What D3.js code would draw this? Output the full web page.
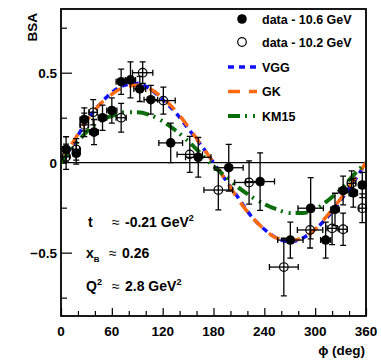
<!DOCTYPE html>
<html>
<head>
<meta charset="utf-8">
<script src="https://cdn.jsdelivr.net/npm/d3@7"></script>
<style>
  body { margin: 0; background: #fff; }
  svg text { font-family: "Liberation Sans", Arial, sans-serif; font-weight: bold; fill: #000; }
</style>
</head>
<body>
<div id="chart"></div>
<script>
// data - 10.6 GeV (filled)
const phi106 = [6, 18, 27.5, 39, 49, 60, 71, 82, 93, 106, 129.5, 162, 198, 235, 270.7, 294.7, 312.4, 323.4, 333, 345, 355.6];
const bsa106 = [0.074, 0.052, 0.24, 0.17, 0.25, 0.29, 0.45, 0.46, 0.41, 0.35, 0.11, 0.03, -0.028, -0.105, -0.43, -0.253, -0.43, -0.26, -0.155, -0.167, -0.124];
const errY106 = [0.07, 0.06, 0.065, 0.07, 0.07, 0.07, 0.07, 0.1, 0.07, 0.08, 0.11, 0.11, 0.13, 0.16, 0.1, 0.17, 0.1, 0.09, 0.08, 0.08, 0.07];
const errX106 = [4, 4, 5, 5, 5, 6, 6, 6, 7, 8, 14, 15, 17, 17, 15, 15, 6, 5, 5, 5, 4];

// data - 10.2 GeV (open)
const phi102 = [6, 18, 27.5, 38, 71, 96.4, 120.8, 152, 185.7, 222, 263, 294, 320, 333, 343, 355.6];
const bsa102 = [0.033, 0.074, 0.21, 0.28, 0.25, 0.5, 0.345, 0.046, -0.152, -0.11, -0.58, -0.374, -0.365, -0.37, -0.115, -0.253];
const errY102 = [0.07, 0.06, 0.065, 0.07, 0.08, 0.06, 0.075, 0.1, 0.11, 0.12, 0.16, 0.1, 0.09, 0.09, 0.07, 0.08];
const errX102 = [4, 4, 5, 5, 6, 12, 14, 15, 17, 17, 17, 15, 6, 5, 5, 4];

// model curves
const phiModel = [0, 15, 30, 45, 60, 75, 90, 105, 120, 135, 150, 165, 180, 195, 210, 225, 240, 255, 270, 285, 300, 315, 330, 345, 360];
const vgg = [0, 0.11, 0.23, 0.32, 0.39, 0.43, 0.44, 0.41, 0.35, 0.28, 0.19, 0.1, 0, -0.1, -0.2, -0.3, -0.37, -0.42, -0.44, -0.42, -0.37, -0.3, -0.21, -0.11, 0];
const gk = [0, 0.12, 0.23, 0.32, 0.38, 0.42, 0.43, 0.41, 0.36, 0.29, 0.2, 0.1, 0, -0.1, -0.21, -0.3, -0.37, -0.42, -0.43, -0.42, -0.37, -0.29, -0.2, -0.1, 0];
const km15 = [0, 0.09, 0.17, 0.23, 0.26, 0.28, 0.28, 0.265, 0.23, 0.18, 0.12, 0.05, -0.02, -0.08, -0.14, -0.19, -0.23, -0.26, -0.28, -0.28, -0.26, -0.21, -0.15, -0.07, 0];

const xTicks = [0, 60, 120, 180, 240, 300, 360];
const yTicks = [-0.5, 0, 0.5];

const width = 381, height = 360;
const margin = {left: 61, right: 15, top: 9, bottom: 44};

const svg = d3.select('#chart').append('svg')
    .attr('width', width)
    .attr('height', height);

const x = d3.scaleLinear().domain([0, 360]).range([margin.left, width - margin.right]);
const y = d3.scaleLinear().domain([-0.852, 0.854]).range([height - margin.bottom, margin.top]);

svg.append('clipPath').attr('id', 'clip')
    .append('rect')
    .attr('x', x(0)).attr('y', y.range()[1])
    .attr('width', x(360) - x(0)).attr('height', y.range()[0] - y.range()[1]);

// zero line
svg.append('line')
    .attr('x1', x(0)).attr('x2', x(360))
    .attr('y1', y(0)).attr('y2', y(0))
    .attr('stroke', '#000').attr('stroke-width', 1.2);

// axes with inward ticks
const xAxis = svg.append('g')
    .attr('transform', `translate(0,${y.range()[0]})`)
    .call(d3.axisBottom(x).tickValues(d3.range(0, 361, 20)).tickSize(-5).tickFormat(''));
xAxis.selectAll('.tick line').filter(d => d % 60 === 0).attr('y2', -8);
xAxis.select('.domain').remove();
xAxis.selectAll('.tick line').attr('stroke-width', 1.2);

const yAxis = svg.append('g')
    .attr('transform', `translate(${x(0)},0)`)
    .call(d3.axisLeft(y).tickValues([-0.75, -0.5, -0.25, 0, 0.25, 0.5, 0.75]).tickSize(-6).tickFormat(''));
yAxis.selectAll('.tick line').filter(d => Math.abs(d) === 0.5).attr('x2', 11);
yAxis.select('.domain').remove();
yAxis.selectAll('.tick line').attr('stroke-width', 1.2);

// tick labels
svg.selectAll('.xlab')
    .data(xTicks)
    .join('text')
    .attr('x', d => x(d))
    .attr('y', 336)
    .attr('text-anchor', 'middle')
    .attr('font-size', 13.5)
    .text(d => d);

svg.selectAll('.ylab')
    .data(yTicks)
    .join('text')
    .attr('x', x(0) - 4)
    .attr('y', d => y(d) + 5)
    .attr('text-anchor', 'end')
    .attr('font-size', 13.5)
    .text(d => d === 0 ? '0' : (d < 0 ? '\u22120.5' : '0.5'));

svg.append('text')
    .attr('transform', 'translate(37,13) rotate(-90)')
    .attr('text-anchor', 'end')
    .attr('font-size', 13.5)
    .text('BSA');

svg.append('text')
    .attr('x', 365).attr('y', 355)
    .attr('text-anchor', 'end')
    .attr('font-size', 13.5)
    .text('\u03d5 (deg)');

// model curves
const models = [
    {name: 'VGG', vals: vgg, color: '#1010ff', dash: '6,5', w: 3.5},
    {name: 'GK', vals: gk, color: '#ff6a10', dash: '12,9', w: 3.5},
    {name: 'KM15', vals: km15, color: '#0a6e0a', dash: '12,5,2,6,2,5', w: 4}
];

const line = d3.line()
    .x((d, i) => x(phiModel[i]))
    .y(d => y(d))
    .curve(d3.curveMonotoneX);

const curves = svg.append('g').attr('clip-path', 'url(#clip)');
curves.selectAll('path')
    .data(models)
    .join('path')
    .attr('d', d => line(d.vals))
    .attr('fill', 'none')
    .attr('stroke', d => d.color)
    .attr('stroke-width', d => d.w)
    .attr('stroke-dasharray', d => d.dash);

// data points with error bars
function drawSet(phis, vals, ey, ex, filled) {
    const pts = phis.map((p, i) => ({p: p, v: vals[i], ey: ey[i], ex: ex[i]}));
    const g = svg.append('g');
    const cap = 3;
    const bars = g.selectAll('g').data(pts).join('g')
        .attr('stroke', '#000').attr('stroke-width', 1.3);
    bars.append('line')
        .attr('x1', d => x(d.p)).attr('x2', d => x(d.p))
        .attr('y1', d => y(d.v - d.ey)).attr('y2', d => y(d.v + d.ey));
    bars.append('line')
        .attr('x1', d => x(d.p - d.ex)).attr('x2', d => x(d.p + d.ex))
        .attr('y1', d => y(d.v)).attr('y2', d => y(d.v));
    bars.append('path')
        .attr('fill', 'none')
        .attr('d', d => {
            const cx = x(d.p), cy = y(d.v);
            const t = y(d.v + d.ey), b = y(d.v - d.ey);
            const l = x(d.p - d.ex), r = x(d.p + d.ex);
            return `M${cx - cap},${t}H${cx + cap}M${cx - cap},${b}H${cx + cap}` +
                   `M${l},${cy - cap}V${cy + cap}M${r},${cy - cap}V${cy + cap}`;
        });
    g.selectAll('circle').data(pts).join('circle')
        .attr('cx', d => x(d.p)).attr('cy', d => y(d.v))
        .attr('r', filled ? 4.8 : 4.3)
        .attr('fill', filled ? '#000' : 'none')
        .attr('stroke', '#000')
        .attr('stroke-width', filled ? 0 : 1.2);
}

drawSet(phi102, bsa102, errY102, errX102, false);
drawSet(phi106, bsa106, errY106, errX106, true);

// frame
svg.append('rect')
    .attr('x', x(0)).attr('y', y.range()[1])
    .attr('width', x(360) - x(0)).attr('height', y.range()[0] - y.range()[1])
    .attr('fill', 'none').attr('stroke', '#000').attr('stroke-width', 1.8);

// legend
const legend = svg.append('g');
legend.append('circle').attr('cx', 242).attr('cy', 19).attr('r', 4.8).attr('fill', '#000');
legend.append('circle').attr('cx', 242).attr('cy', 42).attr('r', 4.3).attr('fill', 'none')
    .attr('stroke', '#000').attr('stroke-width', 1.2);
legend.selectAll('.ll')
    .data(models)
    .join('line')
    .attr('x1', 228).attr('x2', 257)
    .attr('y1', (d, i) => 67 + i * 24.5).attr('y2', (d, i) => 67 + i * 24.5)
    .attr('stroke', d => d.color)
    .attr('stroke-width', d => d.w)
    .attr('stroke-dasharray', d => d.dash);
const legendText = ['data - 10.6 GeV', 'data - 10.2 GeV'].concat(models.map(d => d.name));
legend.selectAll('text')
    .data(legendText)
    .join('text')
    .attr('x', 262)
    .attr('y', (d, i) => [19, 42, 67, 91.5, 116][i] + 4.5)
    .attr('font-size', 12.5)
    .text(d => d);

// kinematics
const kin = svg.append('g').attr('font-size', 14);
const t1 = kin.append('text').attr('y', 227);
t1.append('tspan').attr('x', 88).text('t');
t1.append('tspan').attr('x', 112).attr('font-weight', 'normal').text('\u2248');
t1.append('tspan').attr('x', 125).text('-0.21 GeV');
t1.append('tspan').attr('dy', -6).attr('font-size', 9).text('2');

const t2 = kin.append('text').attr('y', 258);
t2.append('tspan').attr('x', 86).text('x');
t2.append('tspan').attr('dy', 4).attr('font-size', 8).text('B');
t2.append('tspan').attr('x', 109).attr('y', 258).attr('font-weight', 'normal').text('\u2248');
t2.append('tspan').attr('x', 122).text('0.26');

const t3 = kin.append('text').attr('y', 291);
t3.append('tspan').attr('x', 86).text('Q');
t3.append('tspan').attr('dy', -6).attr('font-size', 9).text('2');
t3.append('tspan').attr('x', 112).attr('y', 291).attr('font-weight', 'normal').text('\u2248');
t3.append('tspan').attr('x', 125).text('2.8 GeV');
t3.append('tspan').attr('dy', -6).attr('font-size', 9).text('2');
</script>
</body>
</html>
